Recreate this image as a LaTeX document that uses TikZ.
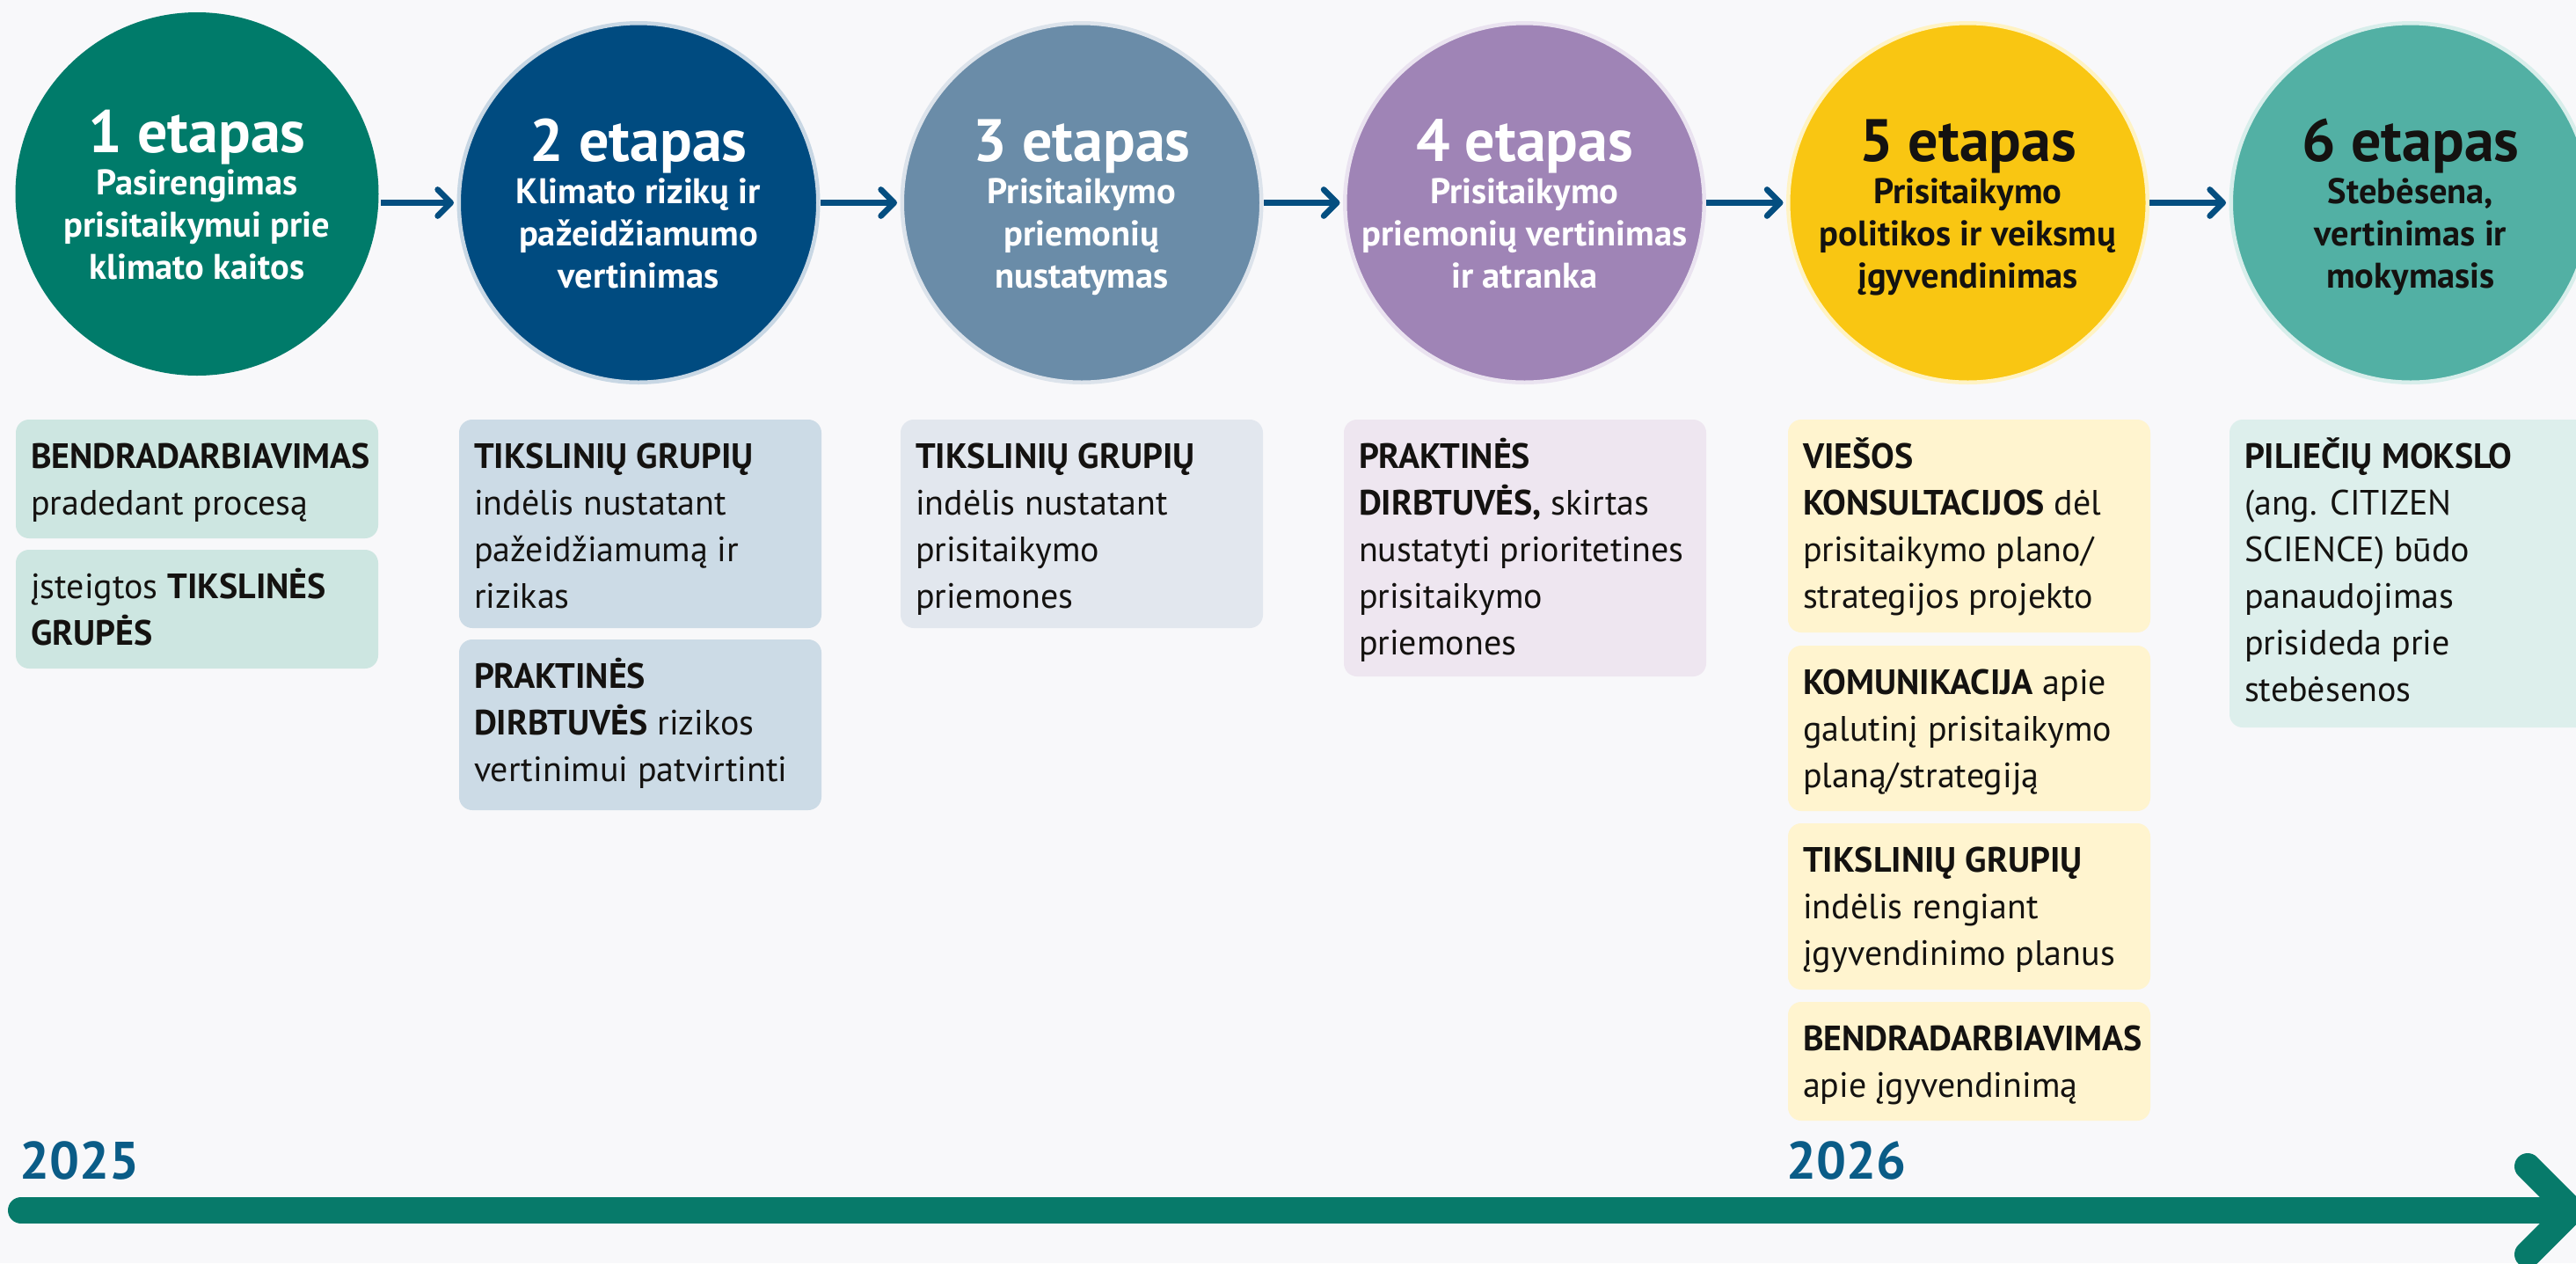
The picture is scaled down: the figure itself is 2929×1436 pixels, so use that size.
\documentclass[tikz,border=0pt]{standalone}
\usepackage{fontspec}
\setmainfont{PT Sans}
\usetikzlibrary{arrows.meta}
\definecolor{bg}{HTML}{F8F8FA}
\definecolor{cA}{HTML}{007B6A}
\definecolor{cB}{HTML}{004B80}
\definecolor{rB}{HTML}{C8D7E4}
\definecolor{cC}{HTML}{6A8CA8}
\definecolor{rC}{HTML}{DCE3EB}
\definecolor{cD}{HTML}{9F84B6}
\definecolor{rD}{HTML}{EAE3F0}
\definecolor{cE}{HTML}{F9C612}
\definecolor{rE}{HTML}{FFF3C4}
\definecolor{cF}{HTML}{52B0A4}
\definecolor{rF}{HTML}{D8EEEB}
\definecolor{bA}{HTML}{CDE6E1}
\definecolor{bB}{HTML}{CCDBE6}
\definecolor{bC}{HTML}{E2E7EE}
\definecolor{bD}{HTML}{EEE6F0}
\definecolor{bE}{HTML}{FFF4CF}
\definecolor{bF}{HTML}{DDEFEC}
\definecolor{arrowblue}{HTML}{044E80}
\definecolor{lineteal}{HTML}{077A6A}
\definecolor{yearblue}{HTML}{0A5C87}
\definecolor{ink}{HTML}{141210}
\newcommand\boxln[1]{\mbox{#1}}
\newcommand\ttlfont{\fontsize{68}{68}\selectfont\bfseries}
\newcommand\sbtfont{\fontsize{40.5}{48}\selectfont\bfseries}
\begin{document}
\begin{tikzpicture}[x=1pt,y=-1pt,
  stage/.style={circle, inner sep=0pt, minimum size=408.5pt, line width=4.5pt},
  stagetext/.style={text width=410pt, align=flush center, anchor=base, inner sep=0pt, outer sep=0pt, font=\sbtfont},
  item/.style={anchor=north west, rounded corners=15pt, text width=378pt, inner xsep=17pt,
    inner ysep=0pt, outer sep=0pt, align=flush left, text height=55pt,
    font=\fontsize{40}{53}\selectfont, text=ink},
  flow/.style={draw=arrowblue, line width=6.7pt, -{Straight Barb[length=15pt,width=30pt,round]}, shorten >=3.5pt},
  year/.style={anchor=base west, inner sep=0pt, font=\fontsize{60}{60}\selectfont\bfseries, text=yearblue},
]
\fill[bg] (0,0) rectangle (2929,1436);
\useasboundingbox (0,0) rectangle (2929,1436);

% stages
\node[stage, fill=cA, minimum size=413pt] (s1) at (224,220.5) {};
\node[stage, fill=cB, draw=rB] (s2) at (726,230.5) {};
\node[stage, fill=cC, draw=rC] (s3) at (1230,230.5) {};
\node[stage, fill=cD, draw=rD] (s4) at (1733.5,230.5) {};
\node[stage, fill=cE, draw=rE] (s5) at (2237.5,230.5) {};
\node[stage, fill=cF, draw=rF] (s6) at (2741,230.5) {};

\node[stagetext, text=white] (t1) at (224,173.5) {{\ttlfont 1 etapas\par}Pasirengimas\\ prisitaikymui prie\\ klimato kaitos};
\node[stagetext, text=white] (t2) at (726,183.5) {{\ttlfont 2 etapas\par}Klimato rizikų ir\\ pažeidžiamumo\\ vertinimas};
\node[stagetext, text=white] (t3) at (1230,183.5) {{\ttlfont 3 etapas\par}Prisitaikymo\\ priemonių\\ nustatymas};
\node[stagetext, text=white] (t4) at (1733.5,183.5) {{\ttlfont 4 etapas\par}Prisitaikymo\\ priemonių vertinimas\\ ir atranka};
\node[stagetext, text=ink] (t5) at (2237.5,183.5) {{\ttlfont 5 etapas\par}Prisitaikymo\\ politikos ir veiksmų\\ įgyvendinimas};
\node[stagetext, text=ink] (t6) at (2741,183.5) {{\ttlfont 6 etapas\par}Stebėsena,\\ vertinimas ir\\ mokymasis};

% flow arrows
\draw[flow] (s1.east |- s2.west) -- (s2.west);
\draw[flow] (s2.east) -- (s3.west);
\draw[flow] (s3.east) -- (s4.west);
\draw[flow] (s4.east) -- (s5.west);
\draw[flow] (s5.east) -- (s6.west);

% activity boxes
\node[item, fill=bA, text depth=80pt] (b1a) at (18,477) {\boxln{\textbf{BENDRADARBIAVIMAS}}\\ \boxln{pradedant procesą}};
\node[item, fill=bA, text depth=80pt] (b1b) at (18,625) {\boxln{įsteigtos \textbf{TIKSLINĖS}}\\ \boxln{\textbf{GRUPĖS}}};

\node[item, fill=bB, text depth=182pt] (b2a) at (522,477) {\boxln{\textbf{TIKSLINIŲ GRUPIŲ}}\\ \boxln{indėlis nustatant}\\ \boxln{pažeidžiamumą ir}\\ \boxln{rizikas}};
\node[item, fill=bB, text depth=139pt] (b2b) at (522,727) {\boxln{\textbf{PRAKTINĖS}}\\ \boxln{\textbf{DIRBTUVĖS} rizikos}\\ \boxln{vertinimui patvirtinti}};

\node[item, fill=bC, text depth=182pt] (b3a) at (1024,477) {\boxln{\textbf{TIKSLINIŲ GRUPIŲ}}\\ \boxln{indėlis nustatant}\\ \boxln{prisitaikymo}\\ \boxln{priemones}};

\node[item, fill=bD, text depth=237pt] (b4a) at (1528,477) {\boxln{\textbf{PRAKTINĖS}}\\ \boxln{\textbf{DIRBTUVĖS,} skirtas}\\ \boxln{nustatyti prioritetines}\\ \boxln{prisitaikymo}\\ \boxln{priemones}};

\node[item, fill=bE, text depth=187pt] (b5a) at (2033,477) {\boxln{\textbf{VIEŠOS}}\\ \boxln{\textbf{KONSULTACIJOS} dėl}\\ \boxln{prisitaikymo plano/}\\ \boxln{strategijos projekto}};
\node[item, fill=bE, text depth=133pt] (b5b) at (2033,734) {\boxln{\textbf{KOMUNIKACIJA} apie}\\ \boxln{galutinį prisitaikymo}\\ \boxln{planą/strategiją}};
\node[item, fill=bE, text depth=134pt] (b5c) at (2033,936) {\boxln{\textbf{TIKSLINIŲ GRUPIŲ}}\\ \boxln{indėlis rengiant}\\ \boxln{įgyvendinimo planus}};
\node[item, fill=bE, text depth=80pt] (b5d) at (2033,1139) {\boxln{\textbf{BENDRADARBIAVIMAS}}\\ \boxln{apie įgyvendinimą}};

\node[item, fill=bF, text depth=295pt] (b6a) at (2535,477) {\boxln{\textbf{PILIEČIŲ MOKSLO}}\\ \boxln{(ang. CITIZEN}\\ \boxln{SCIENCE) būdo}\\ \boxln{panaudojimas}\\ \boxln{prisideda prie}\\ \boxln{stebėsenos}};

% timeline
\node[year] (y25) at (22,1340) {2025};
\node[year] (y26) at (2031,1340) {2026};
\coordinate (tlstart) at (24,1376);
\coordinate (tlend) at (2924,1376);
\coordinate (tlup) at ([shift={(-50,-50)}]tlend);
\coordinate (tldown) at ([shift={(-50,50)}]tlend);
\draw[lineteal, line width=30pt, line cap=round] (tlstart) -- (tlend);
\draw[lineteal, line width=30pt, line cap=round, line join=miter] (tlup) -- (tlend) -- (tldown);
\end{tikzpicture}
\end{document}
